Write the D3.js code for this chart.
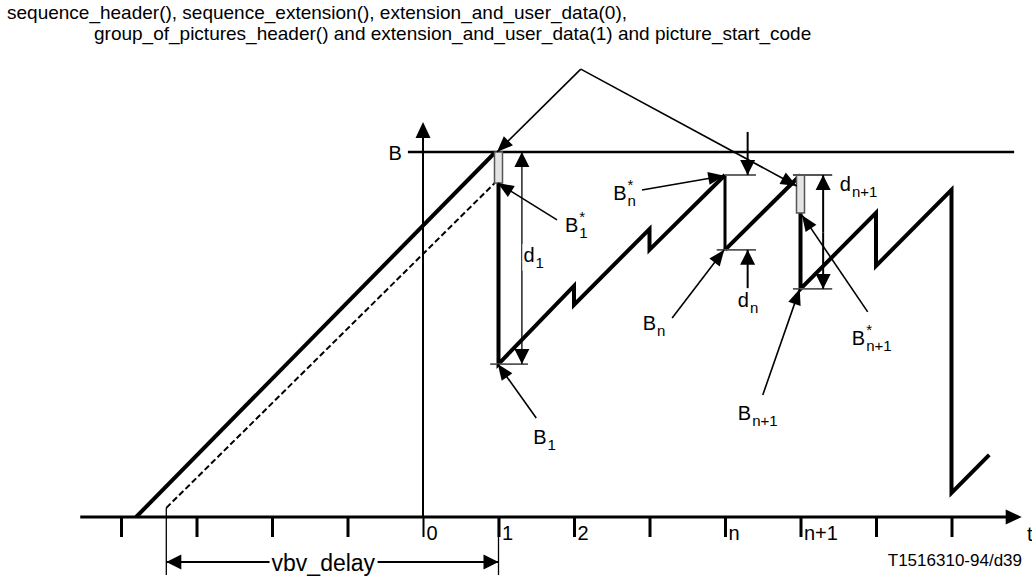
<!DOCTYPE html>
<html>
<head>
<meta charset="utf-8">
<title>VBV buffer occupancy</title>
<script src="https://d3js.org/d3.v7.min.js"></script>
<style>
  body { margin: 0; background: #fff; }
  svg { display: block; font-family: "Liberation Sans", Arial, sans-serif; }
</style>
</head>
<body>
<script>
//---- DATA ----//
// time in picture periods (t), buffer occupancy in % of B (b)
var titleLines = [
  "sequence_header(), sequence_extension(), extension_and_user_data(0),",
  "group_of_pictures_header() and extension_and_user_data(1) and picture_start_code"
];
var tickValues = [-4, -3, -2, -1, 0, 1, 2, 3, 4, 5, 6, 7];
var tickLabels = ["", "", "", "", "0", "1", "2", "", "n", "n+1", "", ""];

var fillLine    = [[-3.8, 0], [0.96, 100]];
var delayedLine = [[-3.4, 2.5], [0.95, 91.5]];
var occupancyA  = [[1, 91.5], [1, 41.9], [2, 63.3], [2, 58.1], [3, 78.9], [3, 73.2], [4, 93.7]];
var dropN       = [[4, 93.7], [4, 73.2]];
var occupancyB  = [[4, 73.2], [5, 93.7]];
var occupancyC  = [[5, 83.3], [5, 62.5], [6, 83.3], [6, 68.8], [7, 89.6], [7, 6.6], [7.5, 17]];
var headerTimes   = [1, 5];
var headerTops    = [100, 93.7];
var headerBottoms = [91.5, 83.3];

// pointer arrows: [from t, from b, tip t, tip b]
var pointers = [
  [1.775, 81.4, 0.99, 91.5],
  [2.9, 89.6, 3.99, 93.5],
  [3.30, 54.5, 3.99, 73.2],
  [1.50, 27.1, 0.99, 41.9],
  [4.50, 33.4, 4.99, 62.5],
  [5.89, 56.2, 5.02, 82.7],
  [2.09, 122.7, 0.98, 100],
  [2.09, 122.7, 4.95, 90.7]
];
// dimension arrows
var dimArrows = [
  [1.31, 70, 1.31, 100],
  [1.31, 70, 1.31, 41.9],
  [4.30, 105.5, 4.30, 93.7],
  [4.30, 62.7, 4.30, 73.2],
  [5.30, 78, 5.30, 93.7],
  [5.30, 78, 5.30, 62.5],
  [-1.2, -12.3, -3.40, -12.3],
  [-1.2, -12.3, 1, -12.3]
];
// extension lines
var extLines = [
  [0.89, 41.9, 1.39, 41.9],
  [4, 93.7, 4.41, 93.7],
  [3.89, 73.2, 4.41, 73.2],
  [4.9, 93.7, 5.42, 93.7],
  [4.9, 62.5, 5.42, 62.5]
];
var vbvLines = [[-3.4, 2.5, -3.4, -15.9], [1, 0, 1, -15.9]];

var labels = [
  {t: 1.88, b: 78.1, text: "B", sup: "*", sub: "1"},
  {t: 2.52, b: 86.8, text: "B", sup: "*", sub: "n"},
  {t: 2.91, b: 51.2, text: "B", sub: "n"},
  {t: 1.46, b: 20.0, text: "B", sub: "1"},
  {t: 4.17, b: 26.6, text: "B", sub: "n+1"},
  {t: 5.68, b: 47.1, text: "B", sup: "*", sub: "n+1"},
  {t: 1.33, b: 69.9, text: "d", sub: "1", bg: true},
  {t: 4.17, b: 57.5, text: "d", sub: "n"},
  {t: 5.52, b: 89.3, text: "d", sub: "n+1"}
];

//---- SETUP ----//
var W = 1032, H = 578;
var svg = d3.select("body").append("svg").attr("width", W).attr("height", H);
var x = d3.scaleLinear().domain([0, 1]).range([423, 498.5]);
var y = d3.scaleLinear().domain([0, 100]).range([517, 152]);
var line = d3.line().x(function(d) { return x(d[0]); }).y(function(d) { return y(d[1]); });

function arrowHead(g, x1, y1, x2, y2, len, hw) {
  var dx = x2 - x1, dy = y2 - y1, l = Math.sqrt(dx * dx + dy * dy);
  var ux = dx / l, uy = dy / l;
  var bx = x2 - ux * len, by = y2 - uy * len;
  g.append("path")
    .attr("d", "M" + x2 + "," + y2 + "L" + (bx - uy * hw) + "," + (by + ux * hw) + "L" + (bx + uy * hw) + "," + (by - ux * hw) + "Z")
    .attr("fill", "#000");
}

function arrow(g, a, width, len, hw) {
  g.append("line")
    .attr("x1", x(a[0])).attr("y1", y(a[1])).attr("x2", x(a[2])).attr("y2", y(a[3]))
    .attr("stroke", "#000").attr("stroke-width", width);
  arrowHead(g, x(a[0]), y(a[1]), x(a[2]), y(a[3]), len, hw);
}

//---- TITLE ----//
svg.append("g").selectAll("text")
  .data(titleLines)
  .enter().append("text")
    .attr("x", function(d, i) { return i == 0 ? 7 : 94; })
    .attr("y", function(d, i) { return 19 + i * 21; })
    .attr("font-size", 19)
    .text(function(d) { return d; });

//---- AXES ----//
var axis = svg.append("g")
  .attr("transform", "translate(0," + y(0) + ")")
  .call(d3.axisBottom(x).tickValues(tickValues).tickSize(20)
        .tickFormat(function(d, i) { return tickLabels[i]; }));
axis.select(".domain").remove();
axis.selectAll(".tick line").attr("stroke", "#000")
  .attr("stroke-width", function(d) { return d == 0 ? 2 : 3; });
axis.selectAll(".tick text")
  .attr("text-anchor", "start").attr("x", 3).attr("y", 9).attr("dy", "0.71em")
  .attr("font-size", 20).attr("font-family", "Liberation Sans, Arial, sans-serif").attr("fill", "#000");

// x axis with arrow
svg.append("line").attr("x1", x(-4.54)).attr("x2", x(7.75)).attr("y1", y(0)).attr("y2", y(0))
  .attr("stroke", "#000").attr("stroke-width", 3);
arrowHead(svg, x(7), y(0), x(7.93), y(0), 16, 7.5);
svg.append("text").attr("x", x(8.0)).attr("y", y(0) + 24).attr("font-size", 20).text("t");

// y axis with arrow
svg.append("line").attr("x1", x(0)).attr("x2", x(0)).attr("y1", y(0)).attr("y2", y(105))
  .attr("stroke", "#000").attr("stroke-width", 2);
arrowHead(svg, x(0), y(0), x(0), y(108.2), 16, 7.5);

// buffer size B
svg.append("line").attr("x1", x(-0.2)).attr("x2", x(7.83)).attr("y1", y(100)).attr("y2", y(100))
  .attr("stroke", "#000").attr("stroke-width", 2.3);
svg.append("text").attr("x", x(-0.28)).attr("y", y(97.8)).attr("text-anchor", "end")
  .attr("font-size", 20).text("B");

//---- OCCUPANCY ----//
svg.append("path").attr("d", line(delayedLine)).attr("fill", "none")
  .attr("stroke", "#000").attr("stroke-width", 2).attr("stroke-dasharray", "6,3");
[fillLine, occupancyA, occupancyB, occupancyC].forEach(function(seg) {
  svg.append("path").attr("d", line(seg)).attr("fill", "none")
    .attr("stroke", "#000").attr("stroke-width", 4).attr("stroke-linejoin", "miter");
});
svg.append("path").attr("d", line(dropN)).attr("fill", "none")
  .attr("stroke", "#000").attr("stroke-width", 3);

svg.append("g").selectAll("rect")
  .data(headerTimes)
  .enter().append("rect")
    .attr("x", function(d) { return x(d) - 4; })
    .attr("y", function(d, i) { return y(headerTops[i]); })
    .attr("width", 8)
    .attr("height", function(d, i) { return y(headerBottoms[i]) - y(headerTops[i]); })
    .attr("fill", "#e4e4e4").attr("stroke", "#555").attr("stroke-width", 1.5);

//---- ANNOTATIONS ----//
var ann = svg.append("g");
extLines.forEach(function(a) {
  ann.append("line").attr("x1", x(a[0])).attr("y1", y(a[1])).attr("x2", x(a[2])).attr("y2", y(a[3]))
    .attr("stroke", "#555").attr("stroke-width", 1.8);
});
vbvLines.forEach(function(a) {
  ann.append("line").attr("x1", x(a[0])).attr("y1", y(a[1])).attr("x2", x(a[2])).attr("y2", y(a[3]))
    .attr("stroke", "#000").attr("stroke-width", 1.3);
});
dimArrows.forEach(function(a, i) { arrow(ann, a, i < 2 ? 1.3 : 2, 15, 7.5); });
pointers.forEach(function(a) { arrow(ann, a, 1.6, 16, 6.5); });

// vbv_delay label
var vbv = ann.append("text").attr("x", x(-1.32)).attr("y", y(-14.8)).attr("text-anchor", "middle")
  .attr("font-size", 23).text("vbv_delay");
var vb = vbv.node().getBBox();
ann.insert("rect", function() { return vbv.node(); })
  .attr("x", vb.x - 2).attr("y", vb.y + 4).attr("width", vb.width + 4).attr("height", vb.height - 8).attr("fill", "#fff");

// B / d labels with sub and superscripts
labels.forEach(function(l) {
  var g = ann.append("g");
  var m = g.append("text").attr("x", x(l.t)).attr("y", y(l.b)).attr("font-size", 20).text(l.text);
  var w = m.node().getComputedTextLength();
  if (l.sup) g.append("text").attr("x", x(l.t) + w + 1).attr("y", y(l.b) - 10).attr("font-size", 15).text(l.sup);
  if (l.sub) g.append("text").attr("x", x(l.t) + w + 1).attr("y", y(l.b) + 6).attr("font-size", 15).text(l.sub);
  if (l.bg) {
    var bb = g.node().getBBox();
    g.insert("rect", "text").attr("x", bb.x - 1).attr("y", bb.y).attr("width", bb.width + 2)
      .attr("height", bb.height).attr("fill", "#fff");
  }
});

// figure code
svg.append("text").attr("x", 1022).attr("y", 566).attr("text-anchor", "end")
  .attr("font-size", 17).text("T1516310-94/d39");
</script>
</body>
</html>
